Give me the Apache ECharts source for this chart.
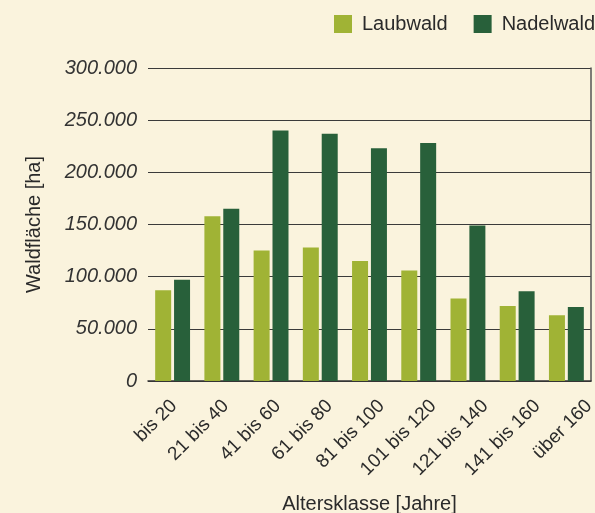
<!DOCTYPE html>
<html>
<head>
<meta charset="utf-8">
<script src="https://cdn.jsdelivr.net/npm/echarts@6/dist/echarts.min.js"></script>
<style>
  html, body { margin: 0; padding: 0; background: #faf3dd; }
  #chart { width: 595px; height: 513px; }
</style>
</head>
<body>
<div id="chart"></div>
<script>
var categories = ["bis 20", "21 bis 40", "41 bis 60", "61 bis 80", "81 bis 100", "101 bis 120", "121 bis 140", "141 bis 160", "über 160"];
var laubwald = [87000, 158000, 125000, 128000, 115000, 106000, 79000, 72000, 63000];
var nadelwald = [97000, 165000, 240000, 237000, 223000, 228000, 149000, 86000, 71000];

function fmt(v) {
    return String(v).replace(/\B(?=(\d{3})+(?!\d))/g, ".");
}

var chart = echarts.init(document.getElementById("chart"));
chart.setOption({
    backgroundColor: "#faf3dd",
    animation: false,
    textStyle: { fontFamily: "Liberation Sans" },
    legend: {
        left: 334,
        top: 14,
        width: 300,
        padding: 0,
        icon: "rect",
        itemWidth: 18,
        itemHeight: 18,
        itemGap: 26,
        textStyle: { fontSize: 20, color: "#2a2a2a", padding: [0, 0, 0, 5] },
        data: ["Laubwald", "Nadelwald"]
    },
    grid: [
        { left: 148, right: 4, top: 68, bottom: 132, outerBoundsMode: "none" },
        // wider grid only for the rotated category labels
        { left: 148, right: -20, top: 68, bottom: 132, outerBoundsMode: "none" }
    ],
    xAxis: [{
        type: "category",
        data: categories,
        name: "Altersklasse [Jahre]",
        nameLocation: "middle",
        nameGap: 113,
        nameTextStyle: { fontSize: 20, color: "#2a2a2a" },
        axisLine: { lineStyle: { color: "#333", width: 1.5 } },
        axisTick: { show: false },
        axisLabel: { show: false }
    }, {
        type: "category",
        gridIndex: 1,
        data: categories,
        axisLine: { show: false },
        axisTick: { show: false },
        axisLabel: { rotate: 45, fontSize: 19, color: "#2a2a2a", margin: 22, interval: 0 }
    }],
    yAxis: [{
        type: "value",
        min: 0,
        max: 300000,
        interval: 50000,
        name: "Waldfläche [ha]",
        nameLocation: "middle",
        nameGap: 104,
        nameTextStyle: { fontSize: 20, color: "#2a2a2a" },
        axisLine: { show: false },
        axisTick: { show: false },
        axisLabel: { fontSize: 20, fontStyle: "italic", color: "#333", margin: 11, formatter: fmt },
        splitLine: { lineStyle: { color: "#3a3a3a", width: 1.2 } }
    }, {
        type: "value",
        position: "right",
        min: 0,
        max: 300000,
        interval: 50000,
        axisLine: { show: true, lineStyle: { color: "#555", width: 1.5 } },
        axisTick: { show: false },
        axisLabel: { show: false },
        splitLine: { show: false }
    }, {
        type: "value",
        gridIndex: 1,
        show: false
    }],
    series: [{
        name: "Laubwald",
        type: "bar",
        data: laubwald,
        barWidth: 16,
        barGap: "18%",
        itemStyle: { color: "#a0b335" }
    }, {
        name: "Nadelwald",
        type: "bar",
        data: nadelwald,
        barWidth: 16,
        itemStyle: { color: "#28603a" }
    }]
});
</script>
</body>
</html>
